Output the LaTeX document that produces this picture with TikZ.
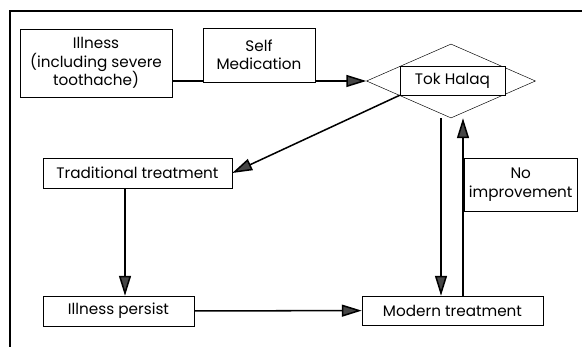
\documentclass[tikz,border=0pt]{standalone}
\usepackage{fontspec}
\setmainfont{Poppins}
\usetikzlibrary{shapes.geometric,arrows.meta,calc}

\begin{document}
\begin{tikzpicture}[x=0.03cm,y=-0.03cm,
  box/.style={draw,thin,fill=white,inner sep=0pt,align=center,font=\fontsize{13}{16}\selectfont},
  arr/.style={line width=1.3pt,-{Triangle[length=0.6cm,width=0.36cm,fill=gray!55!black]}}]
\useasboundingbox (0,0) rectangle (582,347);

% frame
\draw[line width=1.2pt] (10,347) -- (10,11) -- (582,11);

% boxes
\node[box,minimum width=152*0.03cm,minimum height=68*0.03cm] (ill) at (96,63)
  {Illness\\(including severe\\toothache)};
\node[draw,thin,diamond,minimum width=169*0.03cm,minimum height=74*0.03cm,inner sep=0pt] (tok) at (451,81) {};
\node[box,minimum width=105*0.03cm,minimum height=29*0.03cm] (tokbox) at (452.5,80.5) {Tok Halaq};
\node[box,minimum width=189*0.03cm,minimum height=30*0.03cm] (trad) at (137.5,173) {Traditional treatment};
\node[box,minimum width=151*0.03cm,minimum height=30*0.03cm] (persist) at (118.5,311) {Illness persist};
\node[box,minimum width=181*0.03cm,minimum height=29*0.03cm] (modern) at (452.5,310.5) {Modern treatment};

% connectors
\draw[arr] (ill.east |- tok.west) -- (tok.west);
\node[box,minimum width=112*0.03cm,minimum height=54*0.03cm,anchor=south] (self) at (259,82) {Self\\Medication};
\draw[arr] (tokbox.south west) -- (trad.east);
\draw[arr] (trad.south -| 125,0) -- (persist.north -| 125,0);
\draw[arr] (persist) -- (modern);
\draw[arr] (tok.south -| 441,0) -- (modern.north -| 441,0);
\draw[arr] (modern.north -| 463,0) -- (tok.south -| 463,0);
\node[box,minimum width=113*0.03cm,minimum height=53*0.03cm,anchor=west] (noimp) at (464,184.5) {No\\improvement};

\end{tikzpicture}
\end{document}
